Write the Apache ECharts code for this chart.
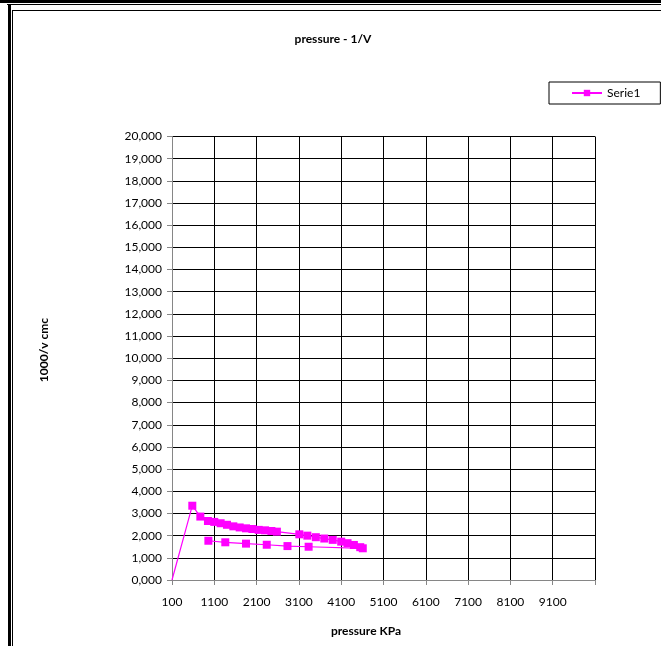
<!DOCTYPE html>
<html>
<head>
<meta charset="utf-8">
<script src="https://cdn.jsdelivr.net/npm/echarts@6/dist/echarts.min.js"></script>
<style>
html,body{margin:0;padding:0;background:#fff;}
#chart{width:661px;height:646px;}
</style>
</head>
<body>
<div id="chart"></div>
<script>
// pressure (KPa) values, in drawing order
var pressure = [100, 580, 770, 950, 1100, 1250, 1400, 1550, 1700, 1850, 2000, 2150, 2300, 2450, 2580,
  3110, 3300, 3500, 3700, 3900, 4100, 4250, 4400, 4550, 4610,
  3330, 2830, 2340, 1850, 1360, 960];
// 1000/v values
var invV = [0, 3.35, 2.86, 2.66, 2.62, 2.56, 2.49, 2.42, 2.37, 2.33, 2.30, 2.26, 2.24, 2.21, 2.18,
  2.06, 2.00, 1.93, 1.87, 1.81, 1.73, 1.66, 1.58, 1.48, 1.43,
  1.50, 1.53, 1.59, 1.64, 1.70, 1.77];
var seriesName = 'Serie1';
var titleText = 'pressure - 1/V';
var xTitle = 'pressure KPa';
var yTitle = '1000/v cmc';

var FONT = 'Lato, "Open Sans", sans-serif';
var data = pressure.map(function (p, i) {
  var item = { value: [p, invV[i]] };
  if (i === 0) item.symbol = 'none';
  return item;
});

var chart = echarts.init(document.getElementById('chart'), null, { renderer: 'canvas' });
chart.setOption({
  animation: false,
  backgroundColor: '#fff',
  textStyle: { fontFamily: FONT },
  grid: { left: 172, right: 66, top: 136.5, bottom: 66, containLabel: false },
  legend: {
    left: 549, top: 82,
    padding: [5, 20, 5, 22],
    borderColor: '#000', borderWidth: 1,
    itemWidth: 30, itemHeight: 8, itemGap: 5,
    textStyle: { fontFamily: FONT, fontSize: 12, color: '#000' },
    data: [seriesName]
  },
  xAxis: {
    type: 'value', min: 100, max: 10100, interval: 1000,
    axisLine: { show: true, lineStyle: { color: '#868686', width: 1 } },
    axisTick: { show: true, length: 5, lineStyle: { color: '#868686' } },
    axisLabel: {
      margin: 16, fontSize: 12, color: '#000', fontFamily: FONT,
      formatter: function (v) { return v >= 10100 ? '' : String(v); }
    },
    splitLine: { show: true, lineStyle: { color: '#000', width: 1 } }
  },
  yAxis: {
    type: 'value', min: 0, max: 20, interval: 1,
    axisLine: { show: true, lineStyle: { color: '#868686', width: 1 } },
    axisTick: { show: true, length: 5, lineStyle: { color: '#868686' } },
    axisLabel: {
      margin: 10, fontSize: 12, color: '#000', fontFamily: FONT,
      formatter: function (v) { return v.toFixed(3).replace('.', ','); }
    },
    splitLine: { show: true, lineStyle: { color: '#000', width: 1 } }
  },
  series: [{
    name: seriesName,
    type: 'line',
    data: data,
    symbol: 'rect',
    symbolSize: 8,
    showAllSymbol: true,
    itemStyle: { color: '#FF00FF' },
    lineStyle: { color: '#FF00FF', width: 1.2 },
    clip: false
  }],
  graphic: [
    { type: 'rect', shape: { x: 0, y: 0, width: 661, height: 3 }, style: { fill: '#000' } },
    { type: 'rect', shape: { x: 7, y: 4, width: 654, height: 1 }, style: { fill: '#000' } },
    { type: 'rect', shape: { x: 8, y: 4, width: 3, height: 642 }, style: { fill: '#000' } },
    { type: 'rect', shape: { x: 12, y: 10, width: 1, height: 636 }, style: { fill: '#000' } },
    { type: 'rect', shape: { x: 12, y: 10, width: 649, height: 1 }, style: { fill: '#000' } },
    { type: 'text', x: 333, y: 39, style: { text: titleText, textAlign: 'center', textVerticalAlign: 'middle', fontFamily: FONT, fontWeight: 'bold', fontSize: 12, fill: '#000' } },
    { type: 'text', x: 366, y: 631, style: { text: xTitle, textAlign: 'center', textVerticalAlign: 'middle', fontFamily: FONT, fontWeight: 'bold', fontSize: 12, fill: '#000' } },
    { type: 'text', x: 44, y: 350, rotation: Math.PI / 2, style: { text: yTitle, textAlign: 'center', textVerticalAlign: 'middle', fontFamily: FONT, fontWeight: 'bold', fontSize: 12, fill: '#000' } }
  ]
});
</script>
</body>
</html>
